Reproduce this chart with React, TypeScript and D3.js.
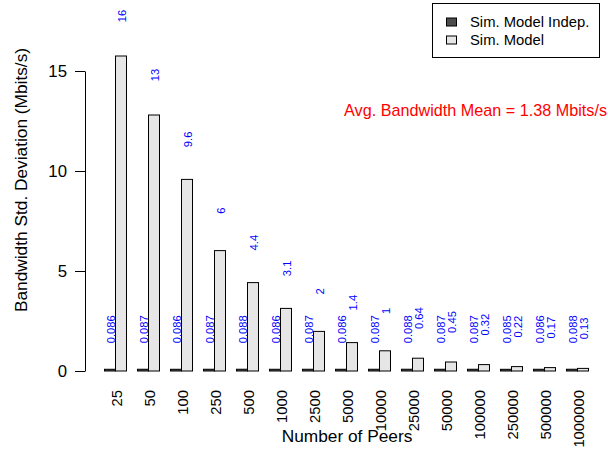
import React, { useEffect, useRef } from "react";
import * as d3 from "d3";

// number of peers per group (x categories)
const peers = ["25", "50", "100", "250", "500", "1000", "2500", "5000", "10000", "25000", "50000", "100000", "250000", "500000", "1000000"];

// std. deviation of bandwidth, Mbits/s
const indepValues = [0.086, 0.087, 0.086, 0.087, 0.088, 0.086, 0.087, 0.086, 0.087, 0.088, 0.087, 0.087, 0.085, 0.086, 0.088];
const modelValues = [15.75, 12.8, 9.58, 6.02, 4.42, 3.13, 1.98, 1.42, 1.01, 0.64, 0.45, 0.32, 0.22, 0.17, 0.13];

const seriesNames = ["Sim. Model Indep.", "Sim. Model"];
const seriesColors = ["#4d4d4d", "#e6e6e6"];
const yTicks = [0, 5, 10, 15];
const meanNote = "Avg. Bandwidth Mean = 1.38 Mbits/s";

const FONT = "'Liberation Sans', Arial, Helvetica, sans-serif";

export default function App() {
  const ref = useRef<SVGSVGElement>(null);

  useEffect(() => {
    const svg = d3.select(ref.current);
    svg.selectAll("*").remove();

    const x = d3.scaleBand<string>()
      .domain(peers)
      .range([104, 588])
      .paddingInner(1 / 3)
      .paddingOuter(0);

    const xs = d3.scaleBand<number>()
      .domain([0, 1])
      .range([0, x.bandwidth()]);

    const y = d3.scaleLinear().domain([0, 15]).range([371, 71]);

    const fmt = d3.format(".2~r");

    const rows = peers.map((p, i) => ({ p, vals: [indepValues[i], modelValues[i]] }));

    // bars
    const groups = svg.append("g")
      .selectAll("g")
      .data(rows)
      .enter()
      .append("g")
      .attr("transform", d => `translate(${x(d.p)},0)`);

    groups.selectAll("rect")
      .data(d => d.vals)
      .enter()
      .append("rect")
      .attr("x", (d, j) => xs(j)! + 0.5)
      .attr("y", d => y(d))
      .attr("width", xs.bandwidth())
      .attr("height", d => y(0) - y(d))
      .attr("fill", (d, j) => seriesColors[j])
      .attr("stroke", "#000")
      .attr("stroke-width", 1);

    // value labels above bars
    groups.selectAll("text")
      .data(d => d.vals)
      .enter()
      .append("text")
      .attr("transform", (d, j) => `translate(${xs(j)! + xs.bandwidth() / 2 + 2},${y(d + 2)}) rotate(-90)`)
      .attr("text-anchor", "middle")
      .attr("dy", "0.35em")
      .attr("fill", "#0000ff")
      .style("font-family", FONT)
      .style("font-size", "11.2px")
      .text(d => fmt(d));

    // x category labels
    svg.append("g")
      .selectAll("text")
      .data(peers)
      .enter()
      .append("text")
      .attr("transform", d => `translate(${x(d)! + x.bandwidth() / 2 + 1.5},390) rotate(-90)`)
      .attr("text-anchor", "end")
      .attr("dy", "0.35em")
      .style("font-family", FONT)
      .style("font-size", "14.8px")
      .text(d => d);

    // y axis
    const yAxis = svg.append("g")
      .attr("transform", "translate(85,0)")
      .call(d3.axisLeft(y).tickValues(yTicks).tickSize(10).tickPadding(8).tickSizeOuter(0));
    yAxis.attr("font-family", FONT).attr("font-size", 16.8);
    yAxis.selectAll("text").attr("fill", "#000");

    // axis titles
    svg.append("text")
      .attr("transform", "translate(27,180) rotate(-90)")
      .attr("text-anchor", "middle")
      .style("font-family", FONT)
      .style("font-size", "17.3px")
      .text("Bandwidth Std. Deviation (Mbits/s)");

    svg.append("text")
      .attr("x", 347)
      .attr("y", 442)
      .attr("text-anchor", "middle")
      .style("font-family", FONT)
      .style("font-size", "17.3px")
      .text("Number of Peers");

    // mean annotation
    svg.append("text")
      .attr("x", 607)
      .attr("y", 116)
      .attr("text-anchor", "end")
      .attr("fill", "#ff0000")
      .style("font-family", FONT)
      .style("font-size", "16.2px")
      .text(meanNote);

    // legend
    const legend = svg.append("g");
    legend.append("rect")
      .attr("x", 432.5).attr("y", 3.5)
      .attr("width", 167).attr("height", 54)
      .attr("fill", "#fff").attr("stroke", "#000");
    const items = legend.selectAll("g.item")
      .data(seriesNames)
      .enter()
      .append("g")
      .attr("transform", (d, i) => `translate(0,${22 + i * 18})`);
    items.append("rect")
      .attr("x", 446.5).attr("y", -4)
      .attr("width", 10).attr("height", 8)
      .attr("fill", (d, i) => seriesColors[i])
      .attr("stroke", "#000");
    items.append("text")
      .attr("x", 470)
      .attr("dy", "0.35em")
      .style("font-family", FONT)
      .style("font-size", "14.8px")
      .text(d => d);
  }, []);

  return <svg ref={ref} width={608} height={450} style={{ position: "absolute", left: 0, top: 0, background: "#fff" }} />;
}
